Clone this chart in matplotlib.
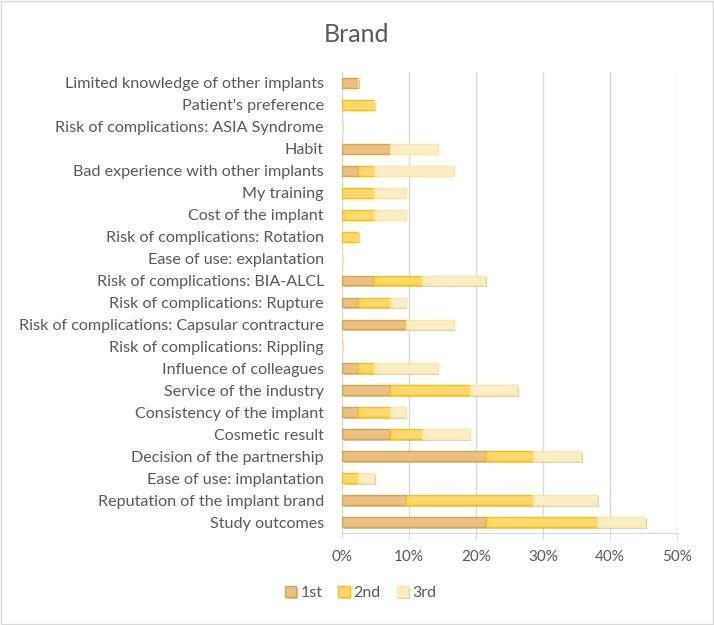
import numpy as np
import matplotlib
matplotlib.use('Agg')
import matplotlib.pyplot as plt
import matplotlib.patheffects as pe
from matplotlib.ticker import PercentFormatter
from matplotlib.patches import Rectangle

# bottom -> top, the way Excel stacks category axes
categories = ['Study outcomes', 'Reputation of the implant brand', 'Ease of use: implantation',
              'Decision of the partnership', 'Cosmetic result', 'Consistency of the implant',
              'Service of the industry', 'Influence of colleagues', 'Risk of complications: Rippling',
              'Risk of complications: Capsular contracture', 'Risk of complications: Rupture',
              'Risk of complications: BIA-ALCL', 'Ease of use: explantation',
              'Risk of complications: Rotation', 'Cost of the implant', 'My training',
              'Bad experience with other implants', 'Habit', 'Risk of complications: ASIA Syndrome',
              "Patient's preference", 'Limited knowledge of other implants']

first = [21.43, 9.52, 0, 21.43, 7.14, 2.38, 7.14, 2.38, 0, 9.52, 2.38,
         4.76, 0, 0, 0, 0, 2.38, 7.14, 0, 0, 2.38]
second = [16.67, 19.05, 2.38, 7.14, 4.76, 4.76, 11.90, 2.38, 0, 0, 4.76,
          7.14, 0, 2.38, 4.76, 4.76, 2.38, 0, 0, 4.76, 0]
third = [7.14, 9.52, 2.38, 7.14, 7.14, 2.38, 7.14, 9.52, 0, 7.14, 2.38,
         9.52, 0, 0, 4.76, 4.76, 11.90, 7.14, 0, 0, 0]

series = ['1st', '2nd', '3rd']
fills = ['#EAC083', '#FFD86E', '#FFEDC6']
edges = ['#D9A441', '#FFC000', '#FFE3A0']

plt.rcParams['font.family'] = ['Lato', 'DejaVu Sans']
txt = '#595959'

fig = plt.figure(figsize=(7.14, 6.25), dpi=100)
ax = fig.add_axes([0.479, 0.147, 0.469, 0.738])

y = np.arange(len(categories))
left = np.zeros(len(categories))
shadow = [pe.SimplePatchShadow(offset=(1.2, -1.2), alpha=0.25), pe.Normal()]
for vals, name, fc, ec in zip([first, second, third], series, fills, edges):
    vals = np.array(vals)
    bars = ax.barh(y, vals, left=left, height=0.45, color=fc, edgecolor=ec,
                   linewidth=1.0, label=name, zorder=3)
    for b in bars:
        b.set_path_effects(shadow)
    left = left + vals

ax.set_xlim(0, 50)
ax.set_ylim(-0.5, len(categories) - 0.5)
ax.set_xticks(np.arange(0, 51, 10))
ax.xaxis.set_major_formatter(PercentFormatter(100, decimals=0))
ax.set_yticks(y)
ax.set_yticklabels(categories)
ax.grid(axis='x', color='#D9D9D9', linewidth=1, zorder=0)
for s in ['top', 'right']:
    ax.spines[s].set_visible(False)
ax.spines['bottom'].set_color('#D9D9D9')
ax.spines['left'].set_color('#D9D9D9')
ax.tick_params(axis='y', length=0, pad=13, labelsize=11.6, labelcolor=txt)
ax.tick_params(axis='x', length=4, color='#D9D9D9', direction='out', pad=8,
               labelsize=11, labelcolor=txt)

fig.text(0.5, 0.944, 'Brand', ha='center', va='center', fontsize=18, color=txt)

fig.legend(loc='center', bbox_to_anchor=(0.505, 0.051), ncol=3, frameon=False,
           fontsize=11.5, labelcolor=txt, handlelength=0.7, handleheight=0.7,
           handletextpad=0.25, columnspacing=1.0)

fig.patches.append(Rectangle((0.002, 0.002), 0.996, 0.996, transform=fig.transFigure,
                             fill=False, edgecolor='#D9D9D9', linewidth=1))

fig.savefig('out.png', dpi=100)
